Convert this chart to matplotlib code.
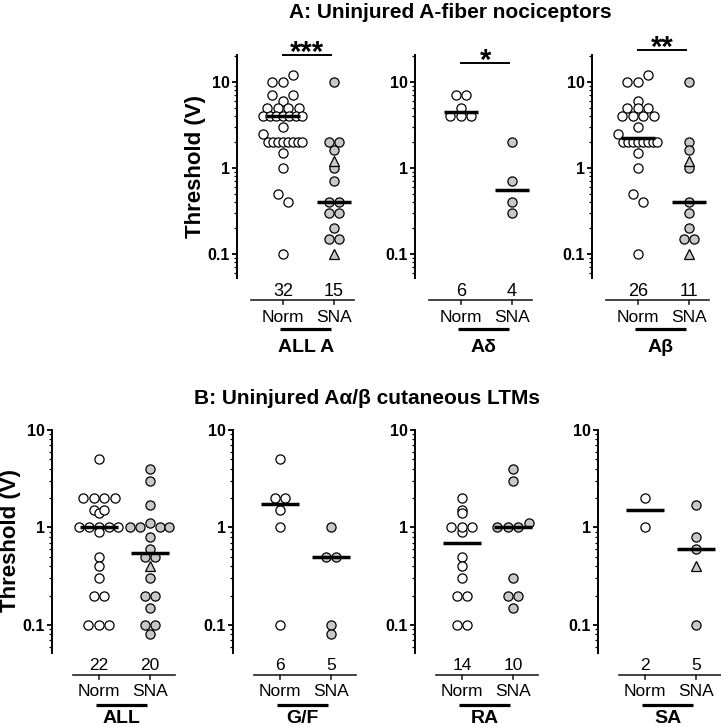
import numpy as np
import matplotlib
matplotlib.use("Agg")
import matplotlib.pyplot as plt
import matplotlib.transforms as mtransforms
from matplotlib.ticker import LogLocator, NullFormatter

plt.rcParams['font.family'] = ['Liberation Sans', 'DejaVu Sans']

W, H, DPI = 721, 727, 100

# ---- data (threshold in V) ----
groups = ["Norm", "SNA"]

# A: uninjured A-fiber nociceptors
a_titles = ["ALL A", "A\u03b4", "A\u03b2"]
a_stars = ["***", "*", "**"]
allA_norm = [10, 10, 12, 7, 6, 7, 5, 5, 5, 5, 4, 4, 4, 4, 4, 4, 4, 2.5, 3,
             2, 2, 2, 2, 2, 2, 2, 2, 1.5, 1, 0.5, 0.4, 0.1]
allA_sna = [10, 2, 2, 1.6, 1, 0.7, 0.4, 0.4, 0.3, 0.3, 0.2, 0.15, 0.15]
allA_sna_tri = [1.2, 0.1]
adelta_norm = [7, 7, 5, 4, 4, 4]
adelta_sna = [2, 0.7, 0.4, 0.3]
adelta_sna_tri = []
abeta_norm = [10, 10, 12, 6, 5, 5, 5, 4, 4, 4, 4, 2.5, 3,
              2, 2, 2, 2, 2, 2, 2, 2, 1.5, 1, 0.5, 0.4, 0.1]
abeta_sna = [10, 2, 1.6, 1, 0.4, 0.3, 0.2, 0.15, 0.15]
abeta_sna_tri = [1.2, 0.1]

# B: uninjured A-alpha/beta cutaneous LTMs
b_titles = ["ALL", "G/F", "RA", "SA"]
all_norm = [5, 2, 2, 2, 2, 1.5, 1.4, 1.5, 1, 1, 1, 1, 1, 0.9, 0.5, 0.4, 0.3,
            0.2, 0.2, 0.1, 0.1, 0.1]
all_sna = [4, 3, 1.7, 1, 1, 1.1, 1, 1, 0.8, 0.6, 0.5, 0.5, 0.3, 0.2, 0.2,
           0.15, 0.1, 0.1, 0.08]
all_sna_tri = [0.4]
gf_norm = [5, 2, 2, 1.5, 1, 0.1]
gf_sna = [1, 0.5, 0.5, 0.1, 0.08]
gf_sna_tri = []
ra_norm = [2, 1.5, 1.4, 1, 0.9, 1, 1, 0.5, 0.4, 0.3, 0.2, 0.2, 0.1, 0.1]
ra_sna = [4, 3, 1, 1, 1, 1.1, 0.3, 0.2, 0.2, 0.15]
ra_sna_tri = []
sa_norm = [2, 1]
sa_sna = [1.7, 0.8, 0.6, 0.1]
sa_sna_tri = [0.4]

a_sets = [(allA_norm, allA_sna, allA_sna_tri),
          (adelta_norm, adelta_sna, adelta_sna_tri),
          (abeta_norm, abeta_sna, abeta_sna_tri)]
b_sets = [(all_norm, all_sna, all_sna_tri),
          (gf_norm, gf_sna, gf_sna_tri),
          (ra_norm, ra_sna, ra_sna_tri),
          (sa_norm, sa_sna, sa_sna_tri)]

GRAY = '#c8c8c8'

fig = plt.figure(figsize=(W / DPI, H / DPI), dpi=DPI)


def yf(px):
    return 1 - px / H


def make_ax(left, top, bottom, xlim, ylim):
    width = (xlim[1] - xlim[0]) * 51
    ax = fig.add_axes([left / W, yf(bottom), width / W, (bottom - top) / H])
    ax.set_yscale('log')
    ax.set_xlim(*xlim)
    ax.set_ylim(*ylim)
    for s in ['top', 'right', 'bottom']:
        ax.spines[s].set_visible(False)
    ax.spines['left'].set_linewidth(1.4)
    ax.set_xticks([])
    ax.set_yticks([0.1, 1, 10])
    ax.set_yticklabels(['0.1', '1', '10'], fontweight='bold', fontsize=11.5)
    ax.yaxis.set_minor_locator(LogLocator(base=10, subs=np.arange(2, 10)))
    ax.yaxis.set_minor_formatter(NullFormatter())
    ax.tick_params(axis='y', which='major', direction='out', length=3.8,
                   width=1.3, pad=1.2)
    ax.tick_params(axis='y', which='minor', direction='out', length=2.2,
                   width=0.9)
    ax.patch.set_alpha(0)
    return ax


def swarm(ax, values, xc, bin_px=10.0, b=1.6, step=10.5, maxspan=39.0):
    # GraphPad-like scatter: values in the same pixel band spread in a row
    vals = np.asarray(values, dtype=float)
    y10 = ax.transData.transform((0, 10))[1]
    ypix = ax.transData.transform(np.column_stack([np.zeros(len(vals)), vals]))[:, 1]
    bins = np.floor((y10 - ypix - b) / bin_px)
    offs = np.zeros(len(vals))
    for bv in np.unique(bins):
        idx = np.where(bins == bv)[0]
        n = len(idx)
        if n > 1:
            sp = min(step, maxspan / (n - 1))
            offs[idx] = (np.arange(n) - (n - 1) / 2) * sp
    ppu = ax.transData.transform((1, 1))[0] - ax.transData.transform((0, 1))[0]
    return xc + offs / ppu


def draw_panel(ax, norm, sna, sna_tri, texts_y, label, med_w):
    # points
    xn = swarm(ax, norm, 0)
    ax.plot(xn, norm, 'o', ms=6.6, mfc='white', mec='black', mew=0.9,
            zorder=2, clip_on=False)
    allsna = list(sna) + list(sna_tri)
    xs = swarm(ax, allsna, 1)
    k = len(sna)
    ax.plot(xs[:k], allsna[:k], 'o', ms=6.6, mfc=GRAY, mec='black', mew=0.9,
            zorder=2, clip_on=False)
    if sna_tri:
        ax.plot(xs[k:], allsna[k:], '^', ms=7.8, mfc=GRAY, mec='black',
                mew=0.9, zorder=2, clip_on=False)
    # medians
    for xc, v in [(0, norm), (1, allsna)]:
        m = np.median(v)
        ax.plot([xc - med_w, xc + med_w], [m, m], color='black', lw=2.5,
                solid_capstyle='butt', zorder=3)
    # axis annotations below the plot
    yc, yl, yg, yb, yt, lx0, lx1, fs = texts_y
    tr = mtransforms.blended_transform_factory(ax.transData, fig.transFigure)
    ax.plot([lx0, lx1], [yf(yl), yf(yl)], color='#222222', lw=1.2,
            transform=tr, clip_on=False)
    for xc, v, g in [(0, norm, groups[0]), (1, allsna, groups[1])]:
        ax.plot([xc, xc], [yf(yl), yf(yl + 4)], color='#222222', lw=1.2,
                transform=tr, clip_on=False)
        ax.text(xc, yf(yc), str(len(v)), transform=tr, ha='center',
                va='center', fontsize=fs)
        ax.text(xc, yf(yg), g, transform=tr, ha='center', va='center',
                fontsize=12.5)
    ax.plot([-0.05, 0.95], [yf(yb), yf(yb)], color='black', lw=2.3,
            transform=tr, clip_on=False, solid_capstyle='butt')
    ax.text(0.45, yf(yt), label, transform=tr, ha='center', va='top',
            fontsize=14, fontweight='bold')


# ---- top row ----
top_left = [237, 415, 592]
sig_y = [55, 63, 50]
for i, (norm, sna, tri) in enumerate(a_sets):
    ax = make_ax(top_left[i], 55, 278, (-0.9, 1.5), (0.0526, 20.6))
    draw_panel(ax, norm, sna, tri,
               (291, 300, 317, 329, 339, -0.62, 1.4, 13), a_titles[i], 0.34)
    tr = mtransforms.blended_transform_factory(ax.transData, fig.transFigure)
    ax.plot([0, 0.95], [yf(sig_y[i]), yf(sig_y[i])], color='black', lw=1.4,
            transform=tr, clip_on=False)
    ax.text(0.475, yf(sig_y[i] - 16 + 0.72 * 30), a_stars[i], transform=tr,
            ha='center', va='baseline', fontsize=21, fontweight='bold')
    if i == 0:
        fig.text(196 / W, yf(166), "Threshold (V)", rotation=90, ha='center',
                 va='center', fontsize=16, fontweight='bold')

# ---- bottom row ----
bot_left = [52, 233, 415, 598]
for i, (norm, sna, tri) in enumerate(b_sets):
    ax = make_ax(bot_left[i], 430, 653, (-0.92, 1.6), (0.0516, 10))
    draw_panel(ax, norm, sna, tri,
               (665, 675, 692, 705, 710, -0.5, 1.5, 12.5), b_titles[i], 0.38)
    if i == 0:
        fig.text(11 / W, yf(541), "Threshold (V)", rotation=90, ha='center',
                 va='center', fontsize=16, fontweight='bold')

fig.text(450 / W, yf(12), "A: Uninjured A-fiber nociceptors", ha='center',
         va='center', fontsize=15, fontweight='bold')
fig.text(367 / W, yf(398), "B: Uninjured A\u03b1/\u03b2 cutaneous LTMs",
         ha='center', va='center', fontsize=15, fontweight='bold')

fig.savefig("out.png", dpi=DPI)
